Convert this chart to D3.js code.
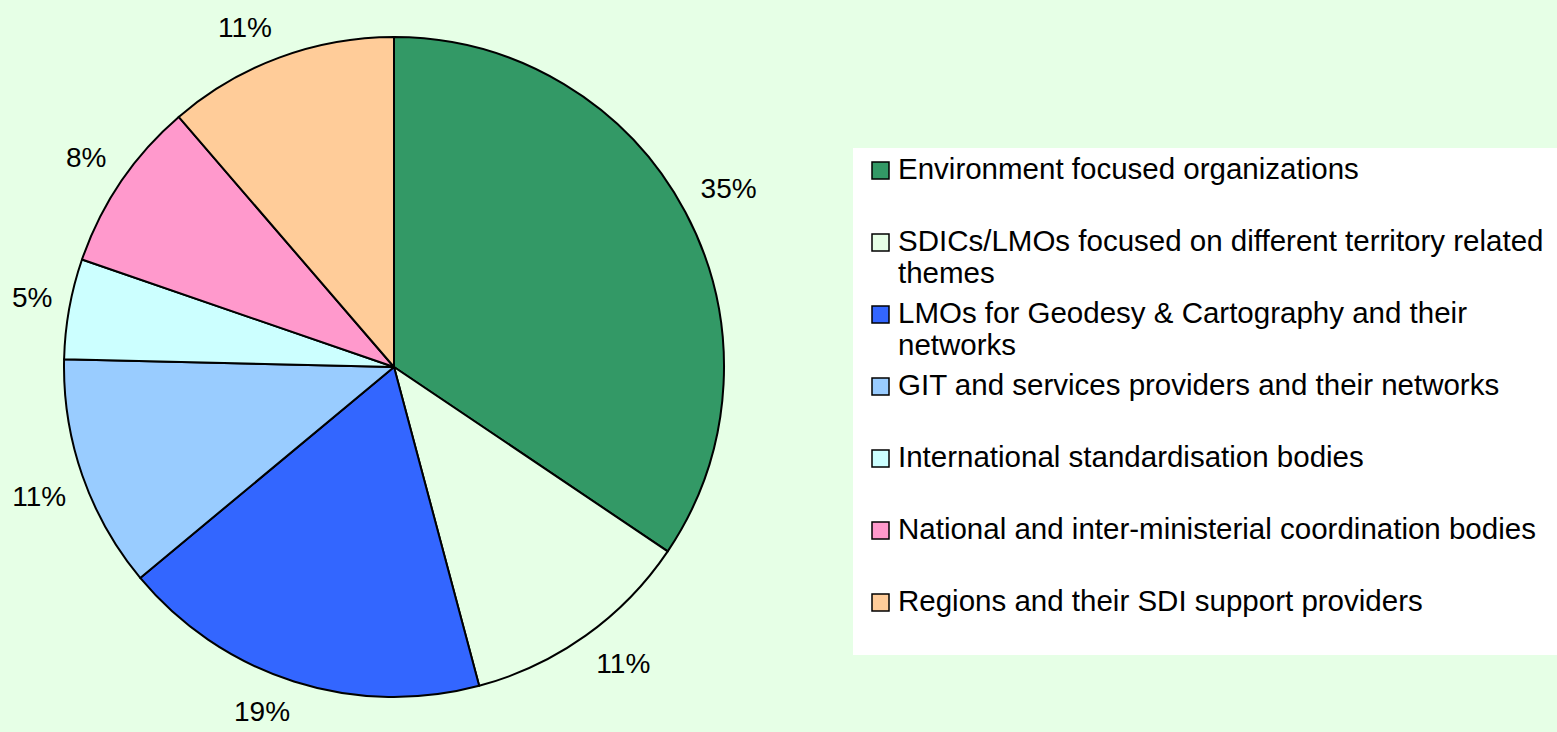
<!DOCTYPE html>
<html>
<head>
<meta charset="utf-8">
<script src="https://d3js.org/d3.v7.min.js"></script>
<style>
  body { margin: 0; background: #e6ffe6; }
  svg { display: block; font-family: "Liberation Sans", Arial, sans-serif; }
</style>
</head>
<body>
<div id="chart"></div>
<script>
// Chart data (shares, labels as printed)
const categories = [
    "Environment focused organizations",
    "SDICs/LMOs focused on different territory related themes",
    "LMOs for Geodesy & Cartography and their networks",
    "GIT and services providers and their networks",
    "International standardisation bodies",
    "National and inter-ministerial coordination bodies",
    "Regions and their SDI support providers"
];
const shares = [34.4, 11.4, 18.1, 11.4, 4.9, 8.4, 11.3];
const percentLabels = ["35%", "11%", "19%", "11%", "5%", "8%", "11%"];
const colors = ["#339966", "#e6ffe6", "#3366ff", "#99ccff", "#ccffff", "#ff99cc", "#ffcc99"];

const width = 1557, height = 732;
const cx = 394, cy = 367, radius = 330;

const svg = d3.select("#chart")
    .append("svg")
    .attr("width", width)
    .attr("height", height);

svg.append("rect")
    .attr("width", width)
    .attr("height", height)
    .attr("fill", "#e6ffe6");

const data = categories.map((name, i) => ({ name, value: shares[i], label: percentLabels[i], color: colors[i] }));

// Pie, clockwise from 12 o'clock, in the data order
const pie = d3.pie().value(d => d.value).sort(null);
const arc = d3.arc().innerRadius(0).outerRadius(radius);
const arcs = pie(data);

const g = svg.append("g").attr("transform", `translate(${cx},${cy})`);

g.selectAll("path.slice")
    .data(arcs)
    .enter()
    .append("path")
    .attr("class", "slice")
    .attr("d", arc)
    .attr("fill", d => d.data.color)
    .attr("stroke", "#000")
    .attr("stroke-width", 2)
    .attr("stroke-linejoin", "round");

// Percent labels outside the pie
const labelGap = 15, boxHalfH = 16, boxPadX = 2;
const clamp = v => Math.max(-1, Math.min(1, v));

g.selectAll("text.pct")
    .data(arcs)
    .enter()
    .append("text")
    .attr("class", "pct")
    .attr("font-size", 28)
    .attr("fill", "#000")
    .attr("text-anchor", "middle")
    .attr("dominant-baseline", "central")
    .text(d => d.data.label)
    .each(function(d) {
        const a = (d.startAngle + d.endAngle) / 2;
        const s = Math.sin(a), c = -Math.cos(a);
        const halfW = this.getComputedTextLength() / 2 + boxPadX;
        const ax = (radius + labelGap) * s;
        const ay = (radius + labelGap) * c;
        d3.select(this)
            .attr("x", ax + halfW * clamp(s * 3))
            .attr("y", ay + boxHalfH * clamp(c * 3));
    });

// Legend
const legend = svg.append("g");

legend.append("rect")
    .attr("x", 853)
    .attr("y", 148)
    .attr("width", width - 853)
    .attr("height", 507)
    .attr("fill", "#ffffff");

const rowStart = 179, rowStep = 72, lineStep = 32, textX = 898, maxTextW = 660;

const items = legend.selectAll("g.item")
    .data(data)
    .enter()
    .append("g")
    .attr("class", "item")
    .attr("transform", (d, i) => `translate(0,${rowStart + i * rowStep})`);

items.append("rect")
    .attr("x", 872)
    .attr("y", -17)
    .attr("width", 17)
    .attr("height", 17)
    .attr("fill", d => d.color)
    .attr("stroke", "#000")
    .attr("stroke-width", 1.5);

items.append("text")
    .attr("font-size", 29.5)
    .attr("fill", "#000")
    .each(function(d) {
        const text = d3.select(this);
        const words = d.name.split(" ");
        let line = [], lineNo = 0;
        let tspan = text.append("tspan").attr("x", textX).attr("y", 0);
        words.forEach(w => {
            line.push(w);
            tspan.text(line.join(" "));
            if (tspan.node().getComputedTextLength() > maxTextW && line.length > 1) {
                line.pop();
                tspan.text(line.join(" "));
                line = [w];
                lineNo++;
                tspan = text.append("tspan").attr("x", textX).attr("y", lineNo * lineStep).text(w);
            }
        });
    });
</script>
</body>
</html>
